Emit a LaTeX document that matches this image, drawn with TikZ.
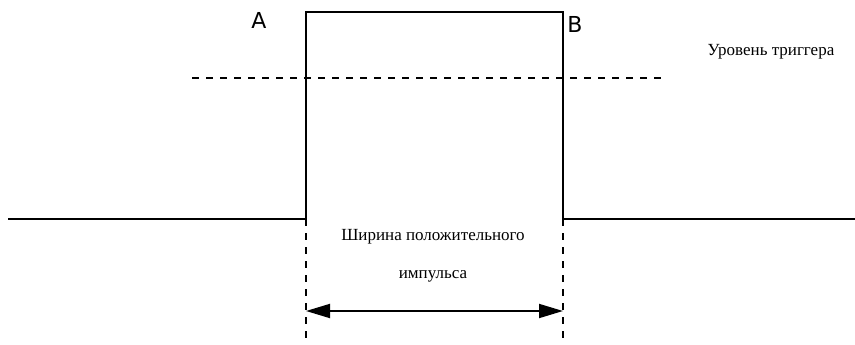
\documentclass[tikz,border=0pt]{standalone}
\usepackage{fontspec}
\setmainfont{Liberation Serif}
\newfontfamily\lblfont{DejaVu Sans}
\usetikzlibrary{arrows.meta}
\begin{document}
\begin{tikzpicture}[x=1pt,y=-1pt,
  signal/.style={line width=1.6pt,line join=miter},
  guide/.style={line width=1.3pt,dash pattern=on 7pt off 7pt},
  widtharrow/.style={line width=1.8pt,{Triangle[length=24pt,width=14pt]}-{Triangle[length=24pt,width=14pt]}},
  caption/.style={font=\fontsize{17}{19}\selectfont,inner sep=0pt},
  edgelabel/.style={font=\lblfont\fontsize{22}{24}\selectfont,inner sep=0pt,anchor=base}]
\useasboundingbox (0,0) rectangle (855,345);
% signal
\coordinate (s0) at (8,219);
\coordinate (sA) at (306,219);
\coordinate (tA) at (306,12);
\coordinate (tB) at (563,12);
\coordinate (sB) at (563,219);
\coordinate (s1) at (855,219);
\draw[signal] (s0) -- (sA) -- (tA) -- (tB) -- (sB) -- (s1);
% trigger level
\coordinate (t0) at (192,78);
\coordinate (t1) at (662,78);
\draw[guide] (t0) -- (t1);
% vertical guides
\coordinate (gA) at (306,345);
\coordinate (gB) at (563,345);
\draw[guide] (sA) -- (gA);
\draw[guide] (sB) -- (gB);
% width arrow
\coordinate (aA) at (306,311);
\coordinate (aB) at (563,311);
\draw[widtharrow] (aA) -- (aB);
% labels
\node[edgelabel] (labA) at (259,29) {A};
\node[edgelabel] (labB) at (575,33) {B};
\node[caption] (trig) at (771,52) {Уровень триггера};
\node[caption] (w1) at (433,237) {Ширина положительного};
\node[caption] (w2) at (433,276) {импульса};
\end{tikzpicture}
\end{document}
